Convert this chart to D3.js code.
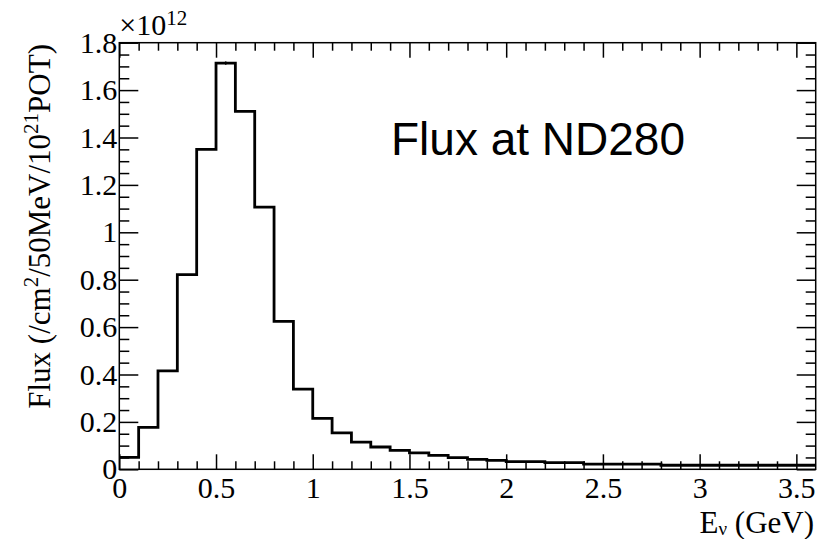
<!DOCTYPE html>
<html>
<head>
<meta charset="utf-8">
<script src="https://d3js.org/d3.v7.min.js"></script>
<style>
  body { margin: 0; background: #fff; }
  .axis text { font-family: "Liberation Serif", "Times New Roman", serif; font-size: 30px; fill: #000; }
  .axis line { stroke: #000; stroke-width: 1.5; }
  .axis path.domain { display: none; }
</style>
</head>
<body>
<svg id="chart"></svg>
<script>
// bin edges (GeV) and flux per bin (x10^12 /cm2/50MeV/10^21 POT)
const binEdges = [0, 0.1, 0.2, 0.3, 0.4, 0.5, 0.6, 0.7, 0.8, 0.9, 1.0,
                  1.1, 1.2, 1.3, 1.4, 1.5, 1.6, 1.7, 1.8, 1.9, 2.0,
                  2.2, 2.4, 2.8, 3.6];
const flux = [0.05, 0.177, 0.415, 0.821, 1.35, 1.714, 1.51, 1.106, 0.624, 0.338,
              0.215, 0.154, 0.115, 0.094, 0.080, 0.069, 0.059, 0.049, 0.042, 0.038,
              0.032, 0.028, 0.022, 0.017];
const fluxErr = [0, 0, 0, 0, 0, 0.007, 0, 0, 0, 0,
                 0, 0, 0, 0, 0, 0, 0, 0, 0, 0,
                 0, 0, 0, 0];
const xMajorTicks = [0, 0.5, 1, 1.5, 2, 2.5, 3, 3.5];
const yMajorTicks = [0, 0.2, 0.4, 0.6, 0.8, 1, 1.2, 1.4, 1.6, 1.8];
const xMinorStep = 0.1;
const yMinorStep = 0.05;

(function () {
    const width = 827, height = 539;
    const padL = 119.3, padR = 815.7, padT = 42.7, padB = 469.3;
    const serif = "Liberation Serif, Times New Roman, serif";

    const svg = d3.select("#chart").attr("width", width).attr("height", height);

    const x = d3.scaleLinear().domain([0, 3.6]).range([padL, padR]);
    const y = d3.scaleLinear().domain([0, 1.8]).range([padB, padT]);

    const xMinor = d3.range(0, 36).map(i => +(i * xMinorStep).toFixed(2)).filter(v => xMajorTicks.indexOf(v) < 0);
    const yMinor = d3.range(0, 37).map(i => +(i * yMinorStep).toFixed(2)).filter(v => yMajorTicks.indexOf(v) < 0);
    const fmt = d3.format("~g");

    // bottom axis (ticks inside, labels below)
    svg.append("g").attr("class", "axis")
        .attr("transform", `translate(0,${padB})`)
        .call(d3.axisBottom(x).tickValues(xMajorTicks).tickSizeInner(-15).tickSizeOuter(0)
            .tickPadding(7).tickFormat(fmt));
    svg.append("g").attr("class", "axis")
        .attr("transform", `translate(0,${padB})`)
        .call(d3.axisBottom(x).tickValues(xMinor).tickSizeInner(-8).tickSizeOuter(0).tickFormat(""));
    // top axis mirrors
    svg.append("g").attr("class", "axis")
        .attr("transform", `translate(0,${padT})`)
        .call(d3.axisTop(x).tickValues(xMajorTicks).tickSizeInner(-15).tickSizeOuter(0).tickFormat(""));
    svg.append("g").attr("class", "axis")
        .attr("transform", `translate(0,${padT})`)
        .call(d3.axisTop(x).tickValues(xMinor).tickSizeInner(-8).tickSizeOuter(0).tickFormat(""));

    // left axis
    svg.append("g").attr("class", "axis")
        .attr("transform", `translate(${padL},0)`)
        .call(d3.axisLeft(y).tickValues(yMajorTicks).tickSizeInner(-19).tickSizeOuter(0)
            .tickPadding(2).tickFormat(fmt));
    svg.append("g").attr("class", "axis")
        .attr("transform", `translate(${padL},0)`)
        .call(d3.axisLeft(y).tickValues(yMinor).tickSizeInner(-10).tickSizeOuter(0).tickFormat(""));
    // right axis mirrors
    svg.append("g").attr("class", "axis")
        .attr("transform", `translate(${padR},0)`)
        .call(d3.axisRight(y).tickValues(yMajorTicks).tickSizeInner(-19).tickSizeOuter(0).tickFormat(""));
    svg.append("g").attr("class", "axis")
        .attr("transform", `translate(${padR},0)`)
        .call(d3.axisRight(y).tickValues(yMinor).tickSizeInner(-10).tickSizeOuter(0).tickFormat(""));

    // histogram outline
    const pts = [];
    flux.forEach((v, i) => {
        pts.push([binEdges[i], v]);
        pts.push([binEdges[i + 1], v]);
    });
    const line = d3.line().x(d => x(d[0])).y(d => y(d[1]));
    svg.append("path")
        .datum(pts)
        .attr("d", line)
        .attr("fill", "none")
        .attr("stroke", "#000")
        .attr("stroke-width", 2.8);

    // error bars
    svg.selectAll("line.err")
        .data(flux.map((v, i) => ({ c: (binEdges[i] + binEdges[i + 1]) / 2, v: v, e: fluxErr[i] })).filter(d => d.e > 0))
        .enter().append("line")
        .attr("class", "err")
        .attr("x1", d => x(d.c)).attr("x2", d => x(d.c))
        .attr("y1", d => y(d.v - d.e)).attr("y2", d => y(d.v + d.e))
        .attr("stroke", "#000").attr("stroke-width", 1.5);

    // frame
    svg.append("rect")
        .attr("x", padL).attr("y", padT)
        .attr("width", padR - padL).attr("height", padB - padT)
        .attr("fill", "none").attr("stroke", "#000").attr("stroke-width", 1.5);

    // exponent
    const expo = svg.append("text")
        .attr("x", padL).attr("y", 35)
        .style("font-family", serif).style("font-size", "30px");
    expo.append("tspan").text("\u00d710");
    expo.append("tspan").attr("dy", -10).style("font-size", "21px").text("12");

    // y title
    const yt = svg.append("text")
        .attr("transform", `translate(50,44) rotate(-90)`)
        .attr("text-anchor", "end")
        .style("font-family", serif).style("font-size", "31px");
    yt.append("tspan").text("Flux (/cm");
    yt.append("tspan").attr("dy", -12).style("font-size", "21px").text("2");
    yt.append("tspan").attr("dy", 12).text("/50MeV/10");
    yt.append("tspan").attr("dy", -12).style("font-size", "21px").text("21");
    yt.append("tspan").attr("dy", 12).text("POT)");

    // x title
    const xt = svg.append("text")
        .attr("x", 814).attr("y", 533)
        .attr("text-anchor", "end")
        .style("font-family", serif).style("font-size", "31px");
    xt.append("tspan").text("E");
    xt.append("tspan").attr("dy", 1.5).style("font-size", "19px").text("\u03bd");
    xt.append("tspan").attr("dy", -1.5).text(" (GeV)");

    // label
    svg.append("text")
        .attr("x", 391).attr("y", 155)
        .style("font-family", "Liberation Sans, Arial, sans-serif").style("font-size", "46px")
        .text("Flux at ND280");
})();
</script>
</body>
</html>
